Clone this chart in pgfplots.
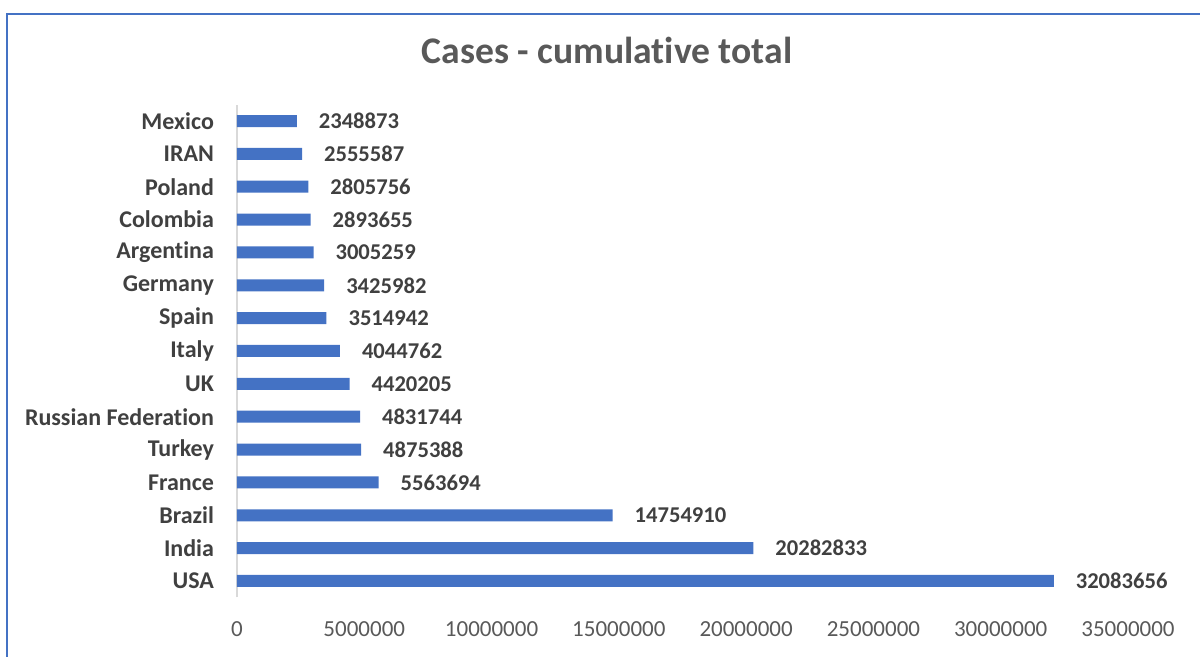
\documentclass[border=0pt]{standalone}
\usepackage{fontspec}
\setmainfont{Carlito}[Ligatures={NoCommon}]
\usepackage{pgfplots}
\pgfplotsset{compat=1.18}
\definecolor{barblue}{HTML}{4472C4}
\definecolor{txtgray}{HTML}{595959}
\definecolor{lblgray}{HTML}{404040}
\definecolor{axgray}{HTML}{D9D9D9}
\begin{document}
\begin{tikzpicture}
\useasboundingbox (0,0) rectangle (600pt,328.5pt);
\draw[barblue, line width=1pt] (3.5pt,-2pt) -- (3.5pt,321.5pt) -- (602pt,321.5pt);
\node[font=\fontsize{18.8}{22}\selectfont\bfseries, text=txtgray] at (303.5pt,303.5pt) {Cases - cumulative total};
\begin{axis}[
  at={(118.5pt,29.8pt)}, anchor=south west,
  scale only axis, width=445.5pt, height=246.4pt,
  xbar, bar width=6pt,
  xmin=0, xmax=35000000,
  ymin=-0.5, ymax=14.5,
  xtick={0,5000000,...,35000000},
  scaled x ticks=false,
  /pgf/number format/.cd, fixed, precision=0, 1000 sep={}, assume math mode=true,
  /pgfplots/.cd,
  ytick={0,...,14},
  yticklabels={USA,India,Brazil,France,Turkey,Russian Federation,UK,Italy,Spain,Germany,Argentina,Colombia,Poland,IRAN,Mexico},
  axis x line*=bottom, axis y line*=left,
  x axis line style={draw=none},
  y axis line style={draw=axgray, line width=0.8pt},
  major tick length=0pt,
  xticklabel style={font=\fontsize{11.5}{13}\selectfont, text=txtgray, yshift=-8.5pt},
  yticklabel style={font=\fontsize{12}{14}\selectfont\bfseries, text=lblgray, xshift=-8pt},
  point meta=explicit symbolic,
  nodes near coords,
  nodes near coords style={font=\fontsize{11.3}{13}\selectfont\bfseries, text=lblgray, anchor=west, xshift=7.5pt},
  clip=false,
]
\addplot[fill=barblue, draw=none] coordinates {
(32083656,0) [32083656]
(20282833,1) [20282833]
(14754910,2) [14754910]
(5563694,3) [5563694]
(4875388,4) [4875388]
(4831744,5) [4831744]
(4420205,6) [4420205]
(4044762,7) [4044762]
(3514942,8) [3514942]
(3425982,9) [3425982]
(3005259,10) [3005259]
(2893655,11) [2893655]
(2805756,12) [2805756]
(2555587,13) [2555587]
(2348873,14) [2348873]
};
\end{axis}
\end{tikzpicture}
\end{document}
